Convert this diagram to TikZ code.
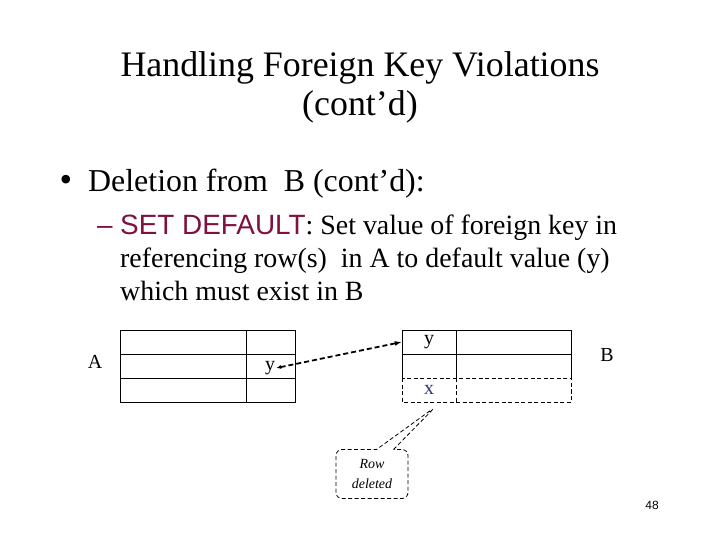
\documentclass[tikz,border=0pt]{standalone}
\usepackage{fontspec}
\setmainfont{Liberation Serif}
\setsansfont{Liberation Sans}
\usetikzlibrary{arrows.meta,shapes.callouts,positioning}
\definecolor{setred}{RGB}{128,16,64}
\definecolor{delblue}{RGB}{51,51,120}

\begin{document}
\begin{tikzpicture}[
    x=1bp, y=-1bp,
    grid/.style={line width=0.8bp},
    gone/.style={line width=0.8bp, dash pattern=on 4bp off 2.5bp},
    val/.style={font=\fontsize{20}{24}\selectfont, inner sep=1bp},
    cellval/.style={val, minimum width=54bp, minimum height=24bp},
    link/.style={line width=1.8bp, dash pattern=on 5bp off 3bp},
    note/.style={draw, gone, rectangle callout, rounded corners=6bp,
        minimum width=72bp, minimum height=49bp, align=center,
        font=\fontsize{14}{20}\selectfont\itshape, callout pointer width=17bp},
]

    \useasboundingbox (0,0) rectangle (720,540);

    % =============================================================
    % Slide text
    % =============================================================
    \node[anchor=north, align=center, inner sep=0,
        font=\fontsize{36}{40}\selectfont] (title) at (360,51)
        {Handling Foreign Key Violations\\(cont’d)};

    \node[font=\fontsize{36}{40}\selectfont, inner sep=0] (bullet) at (66,183) {•};
    \node[anchor=base west, inner sep=0, font=\fontsize{32}{38}\selectfont]
        (point) at (88,192) {Deletion from\ \ B (cont’d):};

    \node[anchor=base west, inner sep=0, text=setred,
        font=\sffamily\fontsize{28}{33}\selectfont] (dash) at (97,235) {–};
    \node[anchor=north west, align=left, inner sep=0,
        font=\fontsize{28}{33}\selectfont] (rule) at (120,215)
        {\textsf{\color{setred}SET DEFAULT}: Set value of foreign key in\\
         referencing row(s)\ \ in A to default value (y)\\
         which must exist in B};

    % =============================================================
    % Table A: the referencing rows
    % =============================================================
    \draw[grid] (120,330) rectangle (295,402);
    \foreach \r in {354,378}
        \draw[grid] (120,\r) -- (295,\r);
    \draw[grid] (246,330) -- (246,402);

    \node[val] (tabA) at (95,362) {A};
    \node[val] (yA) at (270,368) {y};

    % =============================================================
    % Table B: the last row is the one deleted
    % =============================================================
    \draw[grid] (402,378) -- (402,330) -- (571,330) -- (571,378);
    \draw[grid] (402,354) -- (571,354);
    \draw[grid] (456,330) -- (456,378);
    \draw[gone] (402,378) rectangle (571,402);
    \draw[gone] (456,378) -- (456,402);

    \node[val] (tabB) at (607,355) {B};
    \node[cellval] (yB) at (429,342) {y};
    \node[cellval, text=delblue] (xB) at (429,390) {x};

    % the foreign key now takes the default value y
    \draw[link, {Latex[length=5bp,width=4bp]}-{Latex[length=7bp,width=5bp]}]
        (yA.east) -- (yB.west);

    \node[note, callout absolute pointer={([xshift=6bp,yshift=-5bp]xB.south)}]
        (rowdel) at (372,474) {Row\\deleted};

    \node[font=\sffamily\fontsize{12}{14}\selectfont] (pageno) at (652,505) {48};

\end{tikzpicture}
\end{document}
